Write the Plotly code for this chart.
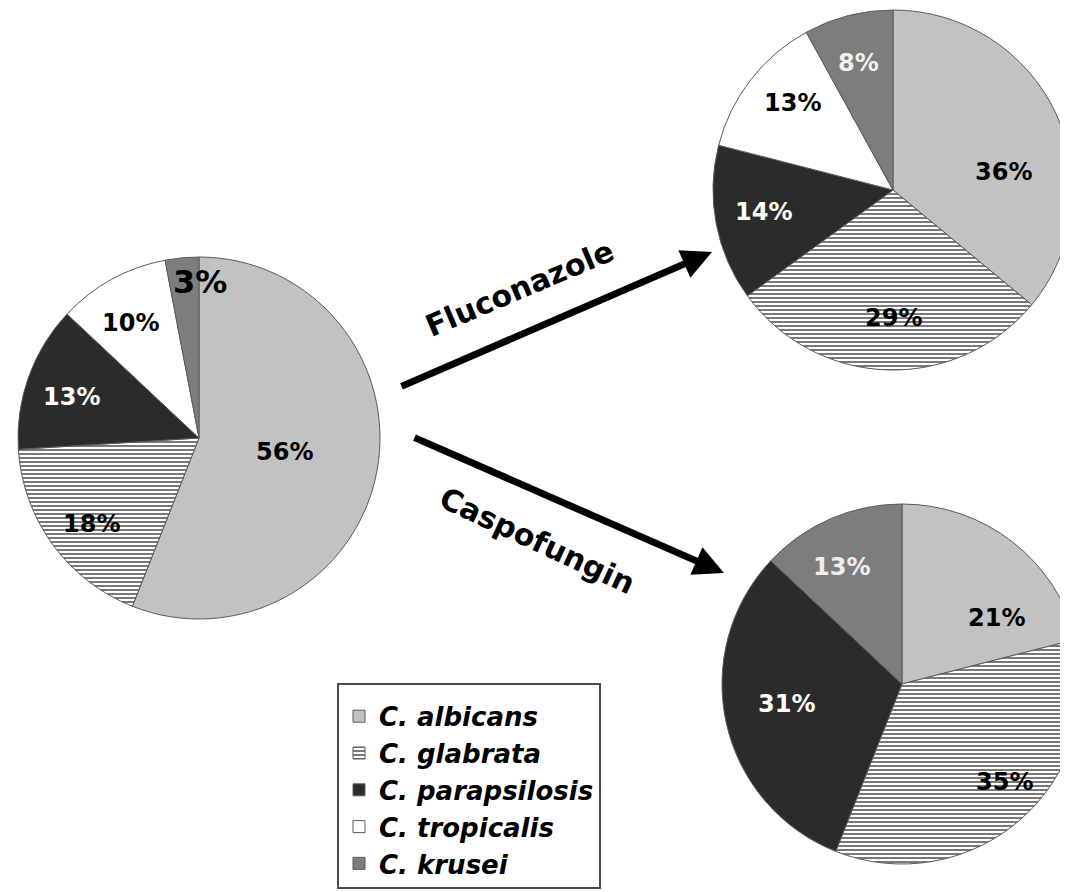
import math
import plotly.graph_objects as go

# ---------------- data ----------------
species = ["C. albicans", "C. glabrata", "C. parapsilosis", "C. tropicalis", "C. krusei"]
baseline = [56, 18, 13, 10, 3]
fluconazole = [36, 29, 14, 13, 8]
caspofungin = [21, 35, 31, 0, 13]
treatments = ["Fluconazole", "Caspofungin"]

# ---------------- style / layout ----------------
W, H = 1090, 920          # figure is a bit larger than the window so the right pies get cut
OFF = 8                   # page body margin
FONT = "DejaVu Sans"
slice_colors = ["#c2c2c2", "#ffffff", "#2b2b2b", "#ffffff", "#7d7d7d"]
slice_patterns = ["", "-", "", "", ""]


def px2paper(sx, sy):
    return (sx - OFF) / W, 1 - (sy - OFF) / H


pies = [
    dict(values=baseline, cx=199, cy=438, r=181,
         frac=[0.48, 0.76, 0.74, 0.74, 0.86], dtheta=[-1.6, -2.5, -2, -2, 5.8],
         tcol=["black", "black", "white", "black", "black"],
         tsize=[24, 24, 24, 24, 32]),
    dict(values=fluconazole, cx=893, cy=190, r=180,
         frac=[0.62, 0.71, 0.73, 0.74, 0.73], dtheta=[16, -1.8, 1, 3, -0.6],
         tcol=["black", "black", "white", "black", "#f0f0f0"],
         tsize=[24, 24, 24, 24, 24]),
    dict(values=caspofungin, cx=902, cy=684, r=180,
         frac=[0.64, 0.79, 0.65, 0.7, 0.73], dtheta=[17.4, -5, 3, 0, -4],
         tcol=["black", "black", "white", "black", "#eeeeee"],
         tsize=[24, 24, 24, 24, 24]),
]

fig = go.Figure()
annotations = []
for i, p in enumerate(pies):
    cx, cy, r = p["cx"], p["cy"], p["r"]
    x0, y1 = px2paper(cx - r, cy - r)
    x1, y0 = px2paper(cx + r, cy + r)
    fig.add_trace(go.Pie(
        labels=species, values=p["values"], sort=False, direction="clockwise",
        rotation=0, textinfo="none", showlegend=(i == 0),
        marker=dict(colors=slice_colors,
                    line=dict(color="#5a5a5a", width=1),
                    pattern=dict(shape=slice_patterns, fgcolor="#6a6a6a",
                                 bgcolor="#ffffff", size=4, solidity=0.45)),
        domain=dict(x=[x0, x1], y=[y0, y1]),
        hovertemplate="%{label}: %{percent}<extra></extra>",
    ))
    total = sum(p["values"])
    cum = 0
    for j, v in enumerate(p["values"]):
        if v > 0:
            mid = (cum + v / 2) / total
            th = math.radians(mid * 360 + p["dtheta"][j])
            sx = cx + p["frac"][j] * r * math.sin(th)
            sy = cy - p["frac"][j] * r * math.cos(th)
            ax_, ay_ = px2paper(sx, sy)
            annotations.append(dict(
                x=ax_, y=ay_, xref="paper", yref="paper",
                xanchor="center", yanchor="middle",
                text=f"<b>{v}%</b>", showarrow=False,
                font=dict(family=FONT, size=p["tsize"][j], color=p["tcol"][j])))
        cum += v

# arrows (head tip and tail, page px) and treatment labels
arrows = [dict(head=(712, 252), tail=(400, 387)), dict(head=(724, 573), tail=(413, 437))]
for a in arrows:
    hx, hy = px2paper(*a["head"])
    annotations.append(dict(
        x=hx, y=hy, xref="paper", yref="paper",
        ax=a["tail"][0] - a["head"][0], ay=a["tail"][1] - a["head"][1],
        text="", showarrow=True, arrowhead=2, arrowsize=0.86, arrowwidth=7,
        arrowcolor="black", standoff=0))

label_pos = [dict(x=519, y=288, angle=-23), dict(x=537, y=540, angle=25)]
for t, lp in zip(treatments, label_pos):
    lx, ly = px2paper(lp["x"], lp["y"])
    annotations.append(dict(
        x=lx, y=ly, xref="paper", yref="paper", xanchor="center", yanchor="middle",
        text=f"<b>{t}</b>", showarrow=False, textangle=lp["angle"],
        font=dict(family=FONT, size=30, color="black")))

lgx, lgy = px2paper(337, 683)
fig.update_layout(
    width=W, height=H, margin=dict(l=0, r=0, t=0, b=0),
    paper_bgcolor="white", plot_bgcolor="white",
    annotations=annotations,
    legend=dict(x=lgx, y=lgy, xanchor="left", yanchor="top",
                bordercolor="#4a4a4a", borderwidth=2, bgcolor="white",
                title=dict(text=" ", font=dict(size=6)),
                font=dict(family=FONT, size=26, color="black",
                          weight="bold", style="italic"),
                traceorder="normal"),
)

fig.write_html("out.html")
